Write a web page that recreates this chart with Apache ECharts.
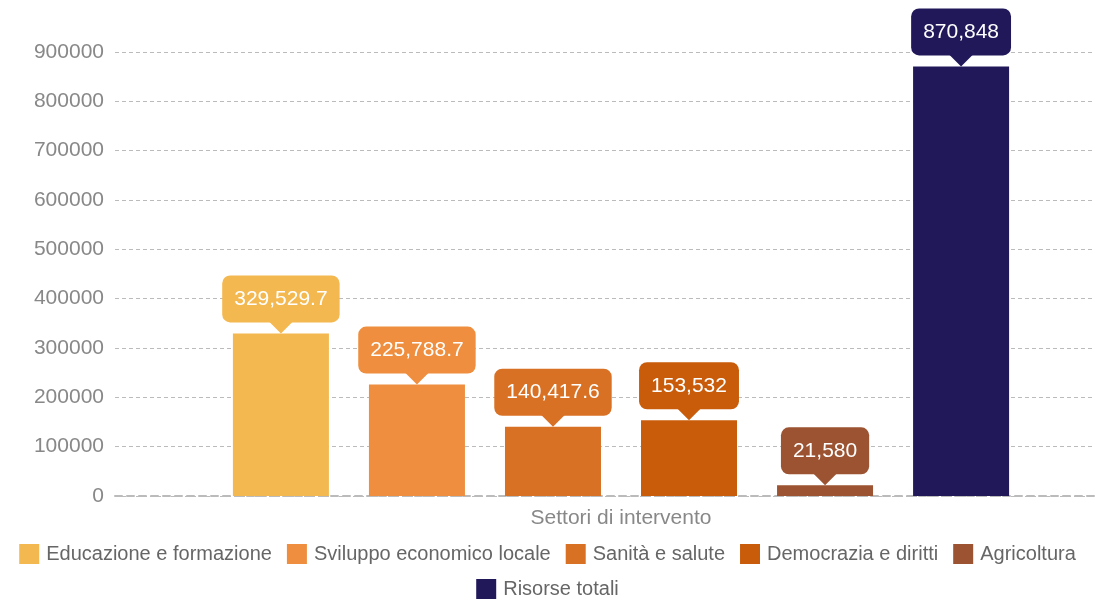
<!DOCTYPE html>
<html>
<head>
<meta charset="utf-8">
<script src="https://cdn.jsdelivr.net/npm/echarts@6/dist/echarts.min.js"></script>
<style>
html,body{margin:0;padding:0;background:#fff;}
#chart{width:1095px;height:604px;}
</style>
</head>
<body>
<div id="chart"></div>
<script>
const categories = ['Settori di intervento'];
const seriesNames = ['Educazione e formazione', 'Sviluppo economico locale', 'Sanità e salute', 'Democrazia e diritti', 'Agricoltura', 'Risorse totali'];
const seriesValues = [329529.7, 225788.7, 140417.6, 153532, 21580, 870848];
const seriesColors = ['#F4B850', '#EE8E3E', '#D97124', '#C95C0A', '#9B5332', '#21185A'];
const yTicks = { min: 0, max: 900000, interval: 100000 };

const FONT = '"Liberation Sans", Arial, sans-serif';

function fmt(v) {
  return Number(v).toLocaleString('en-US', { maximumFractionDigits: 1 });
}

const series = seriesNames.map((name, i) => ({
  name: name,
  type: 'bar',
  barWidth: 96,
  barGap: '41.7%',
  data: [seriesValues[i]],
  itemStyle: { color: seriesColors[i] },
  label: {
    show: true,
    position: 'top',
    distance: 11,
    formatter: p => fmt(p.value),
    color: '#fff',
    fontFamily: FONT,
    fontSize: 21,
    lineHeight: 23,
    backgroundColor: seriesColors[i],
    borderRadius: 8,
    padding: [12, 12]
  },
  markPoint: {
    silent: true,
    symbol: 'path://M0,0L24,0L12,12Z',
    symbolSize: [24, 12],
    symbolOffset: [0, -6],
    itemStyle: { color: seriesColors[i] },
    label: { show: false },
    data: [{ type: 'max' }]
  }
}));

const legendBase = {
  left: 'center',
  itemWidth: 20,
  itemHeight: 20,
  itemGap: 15,
  icon: 'rect',
  textStyle: { color: '#666', fontSize: 20, fontFamily: FONT, padding: [0, 0, 0, 2] }
};

const chart = echarts.init(document.getElementById('chart'), null, { renderer: 'canvas' });
chart.setOption({
  animation: false,
  backgroundColor: '#fff',
  grid: { left: 115, top: 52, right: -32, bottom: 108, containLabel: false, outerBoundsMode: 'none' },
  xAxis: {
    type: 'category',
    data: categories,
    axisTick: { show: false },
    axisLine: { show: true, lineStyle: { color: '#bbb', width: 2, type: [7, 5] } },
    axisLabel: { color: '#888', fontSize: 21, fontFamily: FONT, margin: 12 }
  },
  yAxis: {
    type: 'value',
    min: yTicks.min,
    max: yTicks.max,
    interval: yTicks.interval,
    axisLine: { show: false },
    axisTick: { show: false },
    axisLabel: { color: '#888', fontSize: 21, fontFamily: FONT, margin: 11, formatter: v => String(v) },
    splitLine: { lineStyle: { color: '#bbb', width: 1, type: [4, 3] } }
  },
  legend: [
    Object.assign({}, legendBase, { bottom: 35, data: seriesNames.slice(0, 5) }),
    Object.assign({}, legendBase, { bottom: 0, data: seriesNames.slice(5) })
  ],
  series: series
});
</script>
</body>
</html>
